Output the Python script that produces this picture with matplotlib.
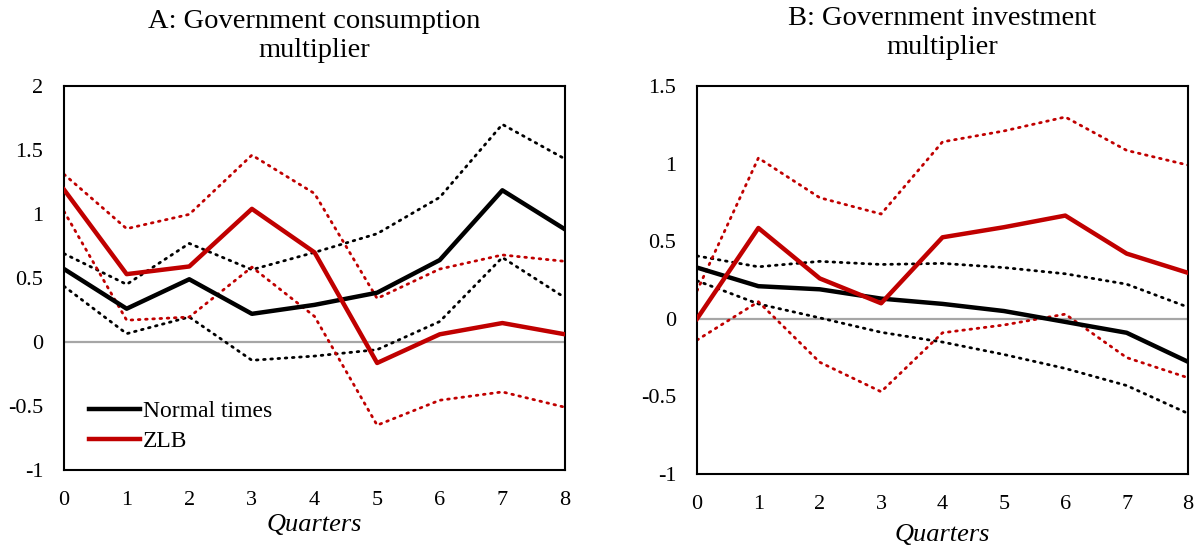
import numpy as np
import matplotlib
matplotlib.use("Agg")
import matplotlib.pyplot as plt

plt.rcParams['font.family'] = ['Liberation Serif', 'DejaVu Serif']

##################### data
quarters = [0, 1, 2, 3, 4, 5, 6, 7, 8]

# A: government consumption multiplier
a_normal    = [0.57, 0.26, 0.49, 0.22, 0.29, 0.385, 0.64, 1.185, 0.88]
a_normal_hi = [0.69, 0.45, 0.77, 0.565, 0.70, 0.846, 1.13, 1.70, 1.43]
a_normal_lo = [0.435, 0.065, 0.195, -0.143, -0.11, -0.06, 0.16, 0.66, 0.346]
a_zlb       = [1.19, 0.53, 0.59, 1.04, 0.70, -0.164, 0.06, 0.148, 0.06]
a_zlb_hi    = [1.31, 0.885, 0.997, 1.46, 1.16, 0.34, 0.57, 0.68, 0.63]
a_zlb_lo    = [1.02, 0.17, 0.195, 0.585, 0.20, -0.65, -0.455, -0.39, -0.51]

# B: government investment multiplier
b_normal    = [0.33, 0.21, 0.19, 0.13, 0.096, 0.05, -0.02, -0.09, -0.277]
b_normal_hi = [0.405, 0.335, 0.37, 0.35, 0.357, 0.33, 0.29, 0.223, 0.075]
b_normal_lo = [0.245, 0.096, 0.006, -0.087, -0.15, -0.23, -0.32, -0.43, -0.61]
b_zlb       = [0.0, 0.585, 0.26, 0.10, 0.525, 0.59, 0.665, 0.42, 0.296]
b_zlb_hi    = [0.18, 1.036, 0.78, 0.675, 1.14, 1.21, 1.30, 1.085, 0.99]
b_zlb_lo    = [-0.137, 0.11, -0.28, -0.47, -0.09, -0.04, 0.03, -0.25, -0.38]

titles = ["A: Government consumption\nmultiplier", "B: Government investment\nmultiplier"]

RED = "#C00000"
FS = 16          # tick labels
FS_TITLE = 20.5
FS_LAB = 19
DOT = (0, (0.6, 2.0))

fig = plt.figure(figsize=(11.97, 5.49), dpi=100)
axA = fig.add_axes([0.0535, 0.1439, 0.4185, 0.6995])
axB = fig.add_axes([0.5823, 0.1366, 0.4102, 0.7068])


def draw(ax, normal, n_hi, n_lo, zlb, z_hi, z_lo, ylim, yticks, title,
         labelpad=3, title_pad=21, legend=False):
    ax.axhline(0, color="#A6A6A6", lw=1.6, zorder=1)
    for band, col in [(n_hi, "black"), (n_lo, "black"), (z_hi, RED), (z_lo, RED)]:
        ax.plot(quarters, band, color=col, lw=2.0, ls=DOT, dash_capstyle="round", zorder=2)
    ax.plot(quarters, normal, color="black", lw=3.2, label="Normal times", zorder=3)
    ax.plot(quarters, zlb, color=RED, lw=3.2, label="ZLB", zorder=3)

    ax.set_xlim(0, 8)
    ax.set_ylim(*ylim)
    ax.set_xticks(quarters)
    ax.set_yticks(yticks)
    ax.set_yticklabels([("%g" % t) for t in yticks])
    ax.tick_params(length=0, labelsize=FS)
    ax.tick_params(axis="x", pad=15)
    ax.tick_params(axis="y", pad=15)
    for sp in ax.spines.values():
        sp.set_linewidth(1.5)
    ax.set_xlabel("Quarters", fontsize=FS_LAB, style="italic", labelpad=labelpad)
    ax.set_title(title, fontsize=FS_TITLE, pad=title_pad, linespacing=1.22)
    if legend:
        ax.legend(loc="lower left", bbox_to_anchor=(0.03, 0.022), frameon=False,
                  fontsize=17, handlelength=2.2, handletextpad=0.1,
                  labelspacing=0.35, borderaxespad=0)


draw(axA, a_normal, a_normal_hi, a_normal_lo, a_zlb, a_zlb_hi, a_zlb_lo,
     (-1, 2), [-1, -0.5, 0, 0.5, 1, 1.5, 2], titles[0],
     labelpad=3, title_pad=21, legend=True)
draw(axB, b_normal, b_normal_hi, b_normal_lo, b_zlb, b_zlb_hi, b_zlb_lo,
     (-1, 1.5), [-1, -0.5, 0, 0.5, 1, 1.5], titles[1],
     labelpad=7, title_pad=23)

fig.savefig("out.png", dpi=100)
